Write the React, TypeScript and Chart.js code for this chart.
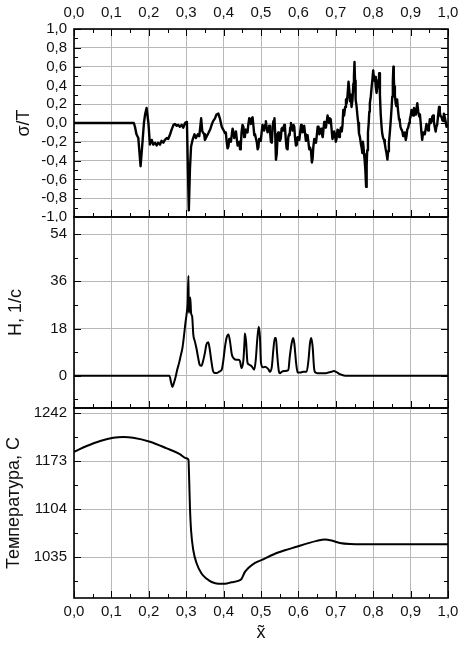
import React, { useEffect, useRef } from 'react';
import { Chart, registerables } from 'chart.js';

Chart.register(...registerables);

const FONT = '"Liberation Sans", Arial, Helvetica, sans-serif';
const TEXT = '#111';
const GRID = '#b8b8b8';

// ---- shared x axis ----
const X_MIN = 0;
const X_MAX = 1;
const X_TICKS = [0, 0.1, 0.2, 0.3, 0.4, 0.5, 0.6, 0.7, 0.8, 0.9, 1.0];

// ---- panel 1: sigma/T ----
const SIGMA_X = [
  0, 0.16, 0.163, 0.167, 0.172, 0.178, 0.183, 0.187, 0.19, 0.194,
  0.199, 0.203, 0.208, 0.212, 0.217, 0.221, 0.225, 0.23, 0.234, 0.239,
  0.243, 0.248, 0.252, 0.257, 0.261, 0.266, 0.27, 0.274, 0.279, 0.283,
  0.288, 0.292, 0.297, 0.3, 0.302, 0.304, 0.307, 0.31, 0.313, 0.317,
  0.322, 0.326, 0.331, 0.335, 0.34, 0.343, 0.348, 0.35, 0.355, 0.359,
  0.364, 0.368, 0.372, 0.377, 0.381, 0.386, 0.39, 0.395, 0.399, 0.404,
  0.406, 0.408, 0.4105, 0.413, 0.415, 0.417, 0.4195, 0.422, 0.424, 0.426,
  0.4285, 0.431, 0.433, 0.435, 0.4375, 0.44, 0.442, 0.444, 0.446, 0.448,
  0.4505, 0.453, 0.455, 0.457, 0.4595, 0.462, 0.464, 0.466, 0.4685, 0.471,
  0.473, 0.475, 0.4775, 0.48, 0.482, 0.484, 0.4865, 0.489, 0.491, 0.493,
  0.495, 0.497, 0.4995, 0.502, 0.504, 0.506, 0.5085, 0.511, 0.513, 0.515,
  0.5175, 0.52, 0.522, 0.524, 0.5265, 0.529, 0.531, 0.533, 0.5345, 0.536,
  0.538, 0.54, 0.542, 0.544, 0.546, 0.548, 0.5505, 0.553, 0.555, 0.557,
  0.5595, 0.562, 0.564, 0.566, 0.5685, 0.571, 0.573, 0.575, 0.5765, 0.578,
  0.58, 0.582, 0.5845, 0.587, 0.589, 0.591, 0.5935, 0.596, 0.598, 0.6,
  0.6025, 0.605, 0.607, 0.609, 0.611, 0.613, 0.6155, 0.618, 0.62, 0.622,
  0.6245, 0.627, 0.629, 0.631, 0.6335, 0.636, 0.638, 0.64, 0.6425, 0.645,
  0.647, 0.649, 0.6515, 0.654, 0.656, 0.658, 0.6605, 0.663, 0.665, 0.667,
  0.669, 0.671, 0.6735, 0.676, 0.678, 0.68, 0.682, 0.684, 0.6865, 0.689,
  0.691, 0.693, 0.6955, 0.698, 0.7, 0.702, 0.7045, 0.707, 0.709, 0.711,
  0.7135, 0.716, 0.718, 0.72, 0.7222, 0.725, 0.7272, 0.729, 0.7315, 0.734,
  0.736, 0.738, 0.74, 0.742, 0.7445, 0.747, 0.7485, 0.75, 0.7515, 0.753,
  0.7555, 0.758, 0.76, 0.762, 0.7645, 0.767, 0.769, 0.771, 0.7725, 0.774,
  0.7755, 0.777, 0.779, 0.781, 0.7825, 0.784, 0.786, 0.788, 0.7895, 0.791,
  0.7935, 0.796, 0.798, 0.8, 0.8025, 0.805, 0.807, 0.809, 0.8115, 0.814,
  0.815, 0.816, 0.818, 0.82, 0.822, 0.824, 0.8265, 0.829, 0.831, 0.833,
  0.8355, 0.838, 0.84, 0.842, 0.8445, 0.847, 0.849, 0.851, 0.8525, 0.854,
  0.855, 0.856, 0.858, 0.86, 0.862, 0.864, 0.8665, 0.869, 0.871, 0.873,
  0.8755, 0.878, 0.88, 0.882, 0.8845, 0.887, 0.889, 0.891, 0.8935, 0.896,
  0.898, 0.9, 0.9025, 0.905, 0.907, 0.909, 0.9115, 0.914, 0.916, 0.918,
  0.9205, 0.923, 0.925, 0.927, 0.929, 0.931, 0.9335, 0.936, 0.938, 0.94,
  0.9425, 0.945, 0.947, 0.949, 0.9515, 0.954, 0.956, 0.958, 0.96, 0.962,
  0.9645, 0.967, 0.969, 0.971, 0.9735, 0.976, 0.978, 0.98, 0.9825, 0.985,
  0.987, 0.989, 0.9915, 0.994, 0.996, 0.998, 1,
];
const SIGMA_Y = [
  0, 0, -0.04, -0.12, -0.16, -0.46, -0.21, 0, 0.09, 0.16,
  0, -0.23, -0.18, -0.23, -0.21, -0.24, -0.21, -0.23, -0.19, -0.21,
  -0.18, -0.16, -0.17, -0.12, -0.07, -0.02, -0.01, -0.03, -0.02, -0.04,
  -0.02, -0.05, 0, 0.01, 0, -0.39, -0.93, -0.49, -0.25, -0.18,
  -0.12, -0.16, -0.12, -0.14, 0.05, -0.09, -0.12, -0.18, -0.14, -0.11,
  -0.07, -0.02, 0.02, 0.05, 0.09, 0.1, 0.05, -0.04, -0.07, -0.11,
  -0.1, -0.19, -0.27, -0.25, -0.17, -0.18, -0.2, -0.12, -0.06, -0.09,
  -0.16, -0.12, -0.09, -0.16, -0.24, -0.21, -0.2, -0.28, -0.24, -0.1,
  -0.02, -0.04, -0.15, -0.14, -0.07, -0.09, -0.1, -0.02, 0.05, 0.02,
  -0.01, 0.05, 0.06, -0.04, -0.13, -0.12, -0.12, -0.21, -0.28, -0.26,
  -0.17, -0.18, -0.19, -0.09, -0.02, -0.05, -0.08, -0.02, 0.02, -0.04,
  -0.1, -0.07, -0.03, -0.09, -0.2, -0.21, -0.05, 0.02, -0.01, 0.05,
  -0.12, -0.39, -0.33, -0.18, -0.1, -0.12, -0.19, -0.16, -0.06, -0.05,
  -0.08, -0.02, -0.04, -0.16, -0.27, -0.28, -0.15, -0.12, -0.13, -0.05,
  0, -0.05, -0.08, -0.02, -0.04, -0.16, -0.24, -0.23, -0.15, -0.18,
  -0.18, -0.09, -0.02, -0.05, -0.1, -0.04, -0.03, -0.12, -0.19, -0.16,
  -0.13, -0.21, -0.28, -0.26, -0.29, -0.42, -0.38, -0.25, -0.17, -0.18,
  -0.21, -0.14, -0.04, -0.04, -0.12, -0.09, -0.06, -0.12, -0.15, -0.07,
  0.01, -0.02, -0.05, 0.02, 0.08, 0.04, 0, 0.05, 0.04, -0.08,
  -0.17, -0.15, -0.09, -0.12, -0.2, -0.17, -0.07, -0.08, -0.15, -0.11,
  -0.05, -0.09, -0.02, 0.14, 0.08, 0.17, 0.25, 0.21, 0.3, 0.44,
  0.35, 0.23, 0.3, 0.17, 0.24, 0.42, 0.5, 0.65, 0.45, 0.25,
  0.18, 0.07, 0, -0.11, -0.15, -0.22, -0.26, -0.32, -0.2, -0.25,
  -0.33, -0.39, -0.5, -0.68, -0.45, -0.29, -0.1, 0, 0.12, 0.21,
  0.28, 0.39, 0.47, 0.56, 0.45, 0.49, 0.38, 0.32, 0.4, 0.46,
  0.45, 0.53, 0.3, 0.1, -0.02, -0.11, -0.16, -0.18, -0.22, -0.27,
  -0.32, -0.39, -0.3, -0.21, -0.1, 0.03, 0.15, 0.28, 0.45, 0.6,
  0.5, 0.39, 0.3, 0.21, 0.18, 0.25, 0.13, 0.04, 0.02, -0.04,
  -0.07, -0.09, -0.14, -0.11, -0.1, -0.18, -0.14, -0.07, -0.05, 0,
  0.04, 0.07, 0.14, 0.12, 0.08, 0.16, 0.14, 0.09, 0.16, 0.21,
  0.12, 0.07, 0.09, 0, -0.1, -0.18, -0.1, -0.11, -0.12, -0.07,
  -0.01, -0.06, -0.08, -0.04, 0.04, 0, 0.02, 0.07, 0.08, 0.02,
  -0.04, -0.09, -0.04, -0.02, 0.08, 0.17, 0.12, 0.07, 0.07, 0.03,
  0.02, 0.1, 0.06, 0.01, -0.04, -0.02, 0,
];
const SIGMA_MIN = -1;
const SIGMA_MAX = 1;
const SIGMA_TICKS = [-1.0, -0.8, -0.6, -0.4, -0.2, 0.0, 0.2, 0.4, 0.6, 0.8, 1.0];

// ---- panel 2: H, 1/s ----
const H_X = [
  0, 0.252, 0.255, 0.26, 0.263, 0.267, 0.272, 0.276, 0.281, 0.285,
  0.29, 0.294, 0.298, 0.301, 0.304, 0.306, 0.307, 0.309, 0.311, 0.313,
  0.316, 0.319, 0.323, 0.328, 0.332, 0.336, 0.341, 0.345, 0.35, 0.354,
  0.359, 0.363, 0.368, 0.372, 0.377, 0.381, 0.39, 0.395, 0.399, 0.404,
  0.408, 0.413, 0.417, 0.422, 0.426, 0.433, 0.44, 0.444, 0.448, 0.453,
  0.456, 0.457, 0.46, 0.464, 0.469, 0.475, 0.482, 0.486, 0.49, 0.494,
  0.497, 0.5, 0.505, 0.511, 0.52, 0.524, 0.529, 0.533, 0.537, 0.54,
  0.543, 0.548, 0.551, 0.555, 0.564, 0.573, 0.577, 0.582, 0.586, 0.589,
  0.594, 0.598, 0.604, 0.613, 0.622, 0.627, 0.631, 0.634, 0.638, 0.642,
  0.646, 0.658, 0.671, 0.68, 0.689, 0.695, 0.702, 0.711, 0.725, 1,
];
const H_Y = [
  0, 0, 0, -2.8, -4.3, -2.8, -0.3, 2.3, 4.9, 7.4,
  10.6, 15.1, 20.2, 23.4, 27.9, 38.1, 24, 26.6, 29.8, 24,
  22.5, 15.7, 13.2, 10, 6.8, 4.2, 3.8, 5.5, 8.7, 11.9,
  12.8, 10, 4.9, 1.7, 1, 1, 1.7, 2.3, 5.5, 11.3,
  14.5, 15.7, 13.2, 8.1, 6.8, 6.1, 6.1, 5.5, 2.9, 6.1,
  13.2, 16.1, 13.2, 4.9, 4.2, 3.6, 2.3, 6.1, 13.8, 18.7,
  15.1, 4.9, 3.2, 3.4, 2.4, 1.5, 3.5, 9.9, 14.4, 14.4,
  8.6, 1.5, 0.9, 1.5, 1.8, 2.2, 7.3, 12.4, 14.4, 12.4,
  4.7, 1.2, 1.2, 1.5, 1.5, 6, 12.4, 14.4, 11.2, 2.8,
  1.2, 0.9, 0.9, 1.2, 1.5, 1.8, 1.4, 0.6, 0, 0,
];
const H_MIN = -12.3;
const H_MAX = 60.5;
const H_TICKS = [0, 18, 36, 54];

// ---- panel 3: temperature, C ----
const T_X = [
  0, 0.034, 0.07, 0.105, 0.132, 0.158, 0.203, 0.248, 0.283, 0.3,
  0.306, 0.308, 0.31, 0.313, 0.319, 0.328, 0.341, 0.355, 0.368, 0.386,
  0.404, 0.421, 0.439, 0.448, 0.457, 0.466, 0.484, 0.506, 0.533, 0.564,
  0.595, 0.622, 0.649, 0.671, 0.689, 0.711, 0.738, 0.774, 1,
];
const T_Y = [
  1186.4, 1194.6, 1201.8, 1206.5, 1207.5, 1206.5, 1200.8, 1191.2, 1183, 1177,
  1175, 1145.7, 1107, 1073.8, 1045, 1026, 1011.6, 1004, 999.5, 997,
  997, 999, 1001, 1004, 1014, 1019.5, 1027, 1032, 1039, 1045,
  1050, 1054.5, 1058.5, 1060.5, 1059, 1055.5, 1054, 1053.7, 1053.7,
];
const T_MIN = 976.5;
const T_MAX = 1249.2;
const T_TICKS = [1035, 1104, 1173, 1242];

const fmt1 = (v: number) => (Math.abs(v) < 1e-9 ? 0 : v).toFixed(1).replace('.', ',');
const fmt0 = (v: number) => String(Math.round(v));

const framePlugin = {
  id: 'frameTicks',
  afterDatasetsDraw(chart: any, _args: any, opts: any) {
    const { ctx, chartArea: a, scales } = chart;
    const xs = scales.x;
    const ys = scales.y;
    ctx.save();
    ctx.strokeStyle = '#000';
    ctx.lineWidth = 1;
    ctx.beginPath();
    const xStep = X_TICKS[1] - X_TICKS[0];
    for (let k = 0; k < 400; k++) {
      const v = X_TICKS[0] + (k * xStep) / 2;
      if (v > xs.max + 1e-9) break;
      const px = Math.round(xs.getPixelForValue(v)) + 0.5;
      const len = k % 2 === 0 ? 7 : 4;
      ctx.moveTo(px, a.bottom);
      ctx.lineTo(px, a.bottom - len);
      if (opts.top) {
        ctx.moveTo(px, a.top);
        ctx.lineTo(px, a.top + len);
      }
    }
    const yt: number[] = opts.yTicks;
    const step = yt[1] - yt[0];
    for (let k = 0; k < 400; k++) {
      const v = yt[0] - step / 2 + (k * step) / 2;
      if (v > ys.max + 1e-9) break;
      if (v < ys.min - 1e-9) continue;
      const py = Math.round(ys.getPixelForValue(v)) + 0.5;
      const len = k % 2 === 1 ? 7 : 4;
      ctx.moveTo(a.left, py);
      ctx.lineTo(a.left + len, py);
      ctx.moveTo(a.right, py);
      ctx.lineTo(a.right - len, py);
    }
    ctx.stroke();
    ctx.lineWidth = 1.6;
    ctx.strokeRect(a.left, a.top, a.right - a.left, a.bottom - a.top);
    ctx.restore();
  },
};

type PanelSpec = {
  xs: number[];
  ys: number[];
  yMin: number;
  yMax: number;
  yTicks: number[];
  yFmt: (v: number) => string;
  yTitle: string;
  yTitlePad: number;
  xPos: 'top' | 'bottom';
  xLabels: boolean;
  xHeight: number;
  xPad: number;
  xTitle?: string;
  padTop: number;
  padBottom: number;
  topTicks: boolean;
  smooth: boolean;
  lineWidth: number;
};

function makeConfig(p: PanelSpec): any {
  const pts = p.xs.map((x, i) => ({ x, y: p.ys[i] }));
  return {
    type: 'line',
    data: {
      datasets: [
        {
          data: pts,
          borderColor: '#000',
          borderWidth: p.lineWidth,
          pointRadius: 0,
          fill: false,
          tension: 0,
          cubicInterpolationMode: p.smooth ? 'monotone' : 'default',
          borderJoinStyle: 'round',
        },
      ],
    },
    options: {
      animation: false,
      responsive: false,
      maintainAspectRatio: false,
      events: [],
      layout: { padding: { left: 0, right: 14, top: p.padTop, bottom: p.padBottom } },
      plugins: {
        legend: { display: false },
        tooltip: { enabled: false },
        frameTicks: { top: p.topTicks, yTicks: p.yTicks },
      },
      scales: {
        x: {
          type: 'linear',
          position: p.xPos,
          min: X_MIN,
          max: X_MAX,
          afterBuildTicks: (s: any) => {
            s.ticks = X_TICKS.map((value) => ({ value }));
          },
          ticks: {
            display: p.xLabels,
            autoSkip: false,
            maxRotation: 0,
            padding: p.xPad,
            color: TEXT,
            font: { family: FONT, size: 15 },
            callback: (v: number) => fmt1(v),
          },
          grid: { color: GRID, lineWidth: 1, drawTicks: false },
          border: { display: false },
          title: p.xTitle
            ? {
                display: true,
                text: p.xTitle,
                color: TEXT,
                font: { family: FONT, size: 18 },
                padding: { top: 0, bottom: 7 },
              }
            : { display: false },
          afterFit: (s: any) => {
            s.height = p.xHeight;
            s.paddingLeft = 0;
            s.paddingRight = 0;
          },
        },
        y: {
          type: 'linear',
          min: p.yMin,
          max: p.yMax,
          afterBuildTicks: (s: any) => {
            s.ticks = p.yTicks.map((value) => ({ value }));
          },
          ticks: {
            autoSkip: false,
            padding: 7,
            color: TEXT,
            font: { family: FONT, size: 15 },
            callback: (v: number) => p.yFmt(v),
          },
          grid: { color: GRID, lineWidth: 1, drawTicks: false },
          border: { display: false },
          title: {
            display: true,
            text: p.yTitle,
            color: TEXT,
            font: { family: FONT, size: 18 },
            padding: { top: p.yTitlePad, bottom: 0 },
          },
          afterFit: (s: any) => {
            s.width = 74;
            s.paddingTop = 0;
            s.paddingBottom = 0;
          },
        },
      },
    },
    plugins: [framePlugin],
  };
}

const PANELS: { top: number; height: number; spec: PanelSpec }[] = [
  {
    top: 0,
    height: 222,
    spec: {
      xs: SIGMA_X, ys: SIGMA_Y, yMin: SIGMA_MIN, yMax: SIGMA_MAX, yTicks: SIGMA_TICKS,
      yFmt: fmt1, yTitle: 'σ/T', yTitlePad: 13,
      xPos: 'top', xLabels: true, xHeight: 29, xPad: 7,
      padTop: 0, padBottom: 5, topTicks: true, smooth: false, lineWidth: 2.4,
    },
  },
  {
    top: 212,
    height: 201,
    spec: {
      xs: H_X, ys: H_Y, yMin: H_MIN, yMax: H_MAX, yTicks: H_TICKS,
      yFmt: fmt0, yTitle: 'H, 1/с', yTitlePad: 5,
      xPos: 'bottom', xLabels: false, xHeight: 0, xPad: 0,
      padTop: 5, padBottom: 5, topTicks: false, smooth: true, lineWidth: 2,
    },
  },
  {
    top: 403,
    height: 248,
    spec: {
      xs: T_X, ys: T_Y, yMin: T_MIN, yMax: T_MAX, yTicks: T_TICKS,
      yFmt: fmt0, yTitle: 'Температура, С', yTitlePad: 3,
      xPos: 'bottom', xLabels: true, xHeight: 53, xPad: 5, xTitle: 'x\u0303',
      padTop: 5, padBottom: 0, topTicks: false, smooth: true, lineWidth: 2,
    },
  },
];

function PanelCanvas({ top, height, spec }: { top: number; height: number; spec: PanelSpec }) {
  const ref = useRef<HTMLCanvasElement | null>(null);
  useEffect(() => {
    if (!ref.current) return;
    const chart = new Chart(ref.current, makeConfig(spec));
    return () => chart.destroy();
  }, [spec]);
  return (
    <canvas
      ref={ref}
      width={462}
      height={height}
      style={{ position: 'absolute', left: 0, top, width: 462, height }}
    />
  );
}

export default function App() {
  return (
    <div style={{ position: 'absolute', left: 0, top: 0, width: 462, height: 651, background: '#fff' }}>
      {PANELS.map((p, i) => (
        <PanelCanvas key={i} top={p.top} height={p.height} spec={p.spec} />
      ))}
    </div>
  );
}
